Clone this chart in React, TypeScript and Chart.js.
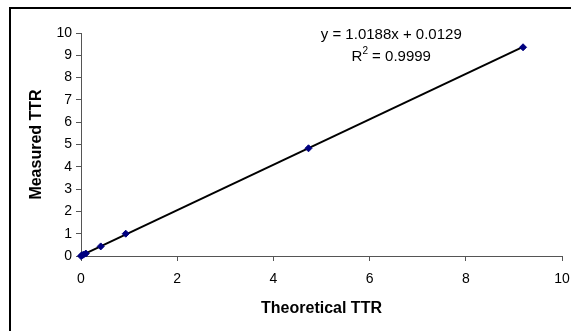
import React, { useEffect, useRef } from "react";
import { Chart, registerables } from "chart.js";

Chart.register(...registerables);

// Data
const theoreticalTTR = [0, 0.02, 0.05, 0.1, 0.41, 0.93, 4.73, 9.19];
const measuredTTR = [0, 0.03, 0.06, 0.11, 0.43, 1.0, 4.83, 9.36];

// Linear trend line (as printed on the chart)
const TREND_SLOPE = 1.0188;
const TREND_INTERCEPT = 0.0129;
const EQUATION_TEXT = "y = 1.0188x + 0.0129";
const R2_VALUE_TEXT = " = 0.9999";

const X_TITLE = "Theoretical TTR";
const Y_TITLE = "Measured TTR";

const FONT = "'Liberation Sans', Arial, Helvetica, sans-serif";

export default function App() {
  const ref = useRef<HTMLCanvasElement | null>(null);

  useEffect(() => {
    if (!ref.current) return;
    const xMin = Math.min(...theoreticalTTR);
    const xMax = Math.max(...theoreticalTTR);
    const trend = [
      { x: xMin, y: TREND_SLOPE * xMin + TREND_INTERCEPT },
      { x: xMax, y: TREND_SLOPE * xMax + TREND_INTERCEPT },
    ];
    const points = theoreticalTTR.map((x, i) => ({ x, y: measuredTTR[i] }));

    const framePlugin = {
      id: "frame",
      beforeDraw(chart: any) {
        const ctx = chart.ctx;
        ctx.save();
        ctx.fillStyle = "#ffffff";
        ctx.fillRect(0, 0, chart.width, chart.height);
        ctx.fillStyle = "#000000";
        ctx.fillRect(9, 7, chart.width - 9, 2);
        ctx.fillRect(9, 7, 2, chart.height - 7);
        ctx.restore();
      },
      afterDraw(chart: any) {
        const ctx = chart.ctx;
        const xs = chart.scales.x;
        const ys = chart.scales.y;
        const cx = xs.getPixelForValue(6.45);
        ctx.save();
        ctx.fillStyle = "#000000";
        ctx.textBaseline = "middle";
        ctx.font = `15px ${FONT}`;
        ctx.textAlign = "center";
        const y1 = ys.getPixelForValue(9.92);
        ctx.fillText(EQUATION_TEXT, cx, y1);
        // R² line
        const y2 = ys.getPixelForValue(8.94);
        ctx.textAlign = "left";
        const wR = ctx.measureText("R").width;
        const wRest = ctx.measureText(R2_VALUE_TEXT).width;
        ctx.font = `10px ${FONT}`;
        const w2 = ctx.measureText("2").width;
        const total = wR + w2 + wRest;
        const x0 = cx - total / 2;
        ctx.font = `15px ${FONT}`;
        ctx.fillText("R", x0, y2);
        ctx.font = `10px ${FONT}`;
        ctx.fillText("2", x0 + wR, y2 - 5);
        ctx.font = `15px ${FONT}`;
        ctx.fillText(R2_VALUE_TEXT, x0 + wR + w2, y2);
        ctx.restore();
      },
    };

    const chart = new Chart(ref.current, {
      type: "scatter",
      data: {
        datasets: [
          {
            type: "line",
            data: trend,
            borderColor: "#000000",
            borderWidth: 2,
            pointRadius: 0,
            fill: false,
            clip: false,
            order: 2,
          } as any,
          {
            data: points,
            backgroundColor: "#000080",
            borderColor: "#000080",
            pointStyle: "rectRot",
            pointRadius: 3.5,
            clip: false,
            order: 1,
          } as any,
        ],
      },
      options: {
        animation: false,
        responsive: false,
        layout: { padding: { left: 0, right: 9, top: 33, bottom: 0 } },
        plugins: {
          legend: { display: false },
          tooltip: { enabled: false },
        },
        scales: {
          x: {
            type: "linear",
            min: 0,
            max: 10,
            afterFit: (s: any) => {
              s.height = 75;
              s.paddingLeft = 0;
              s.paddingRight = 0;
            },
            ticks: {
              stepSize: 2,
              color: "#000000",
              padding: 10,
              font: { family: FONT, size: 14 },
            },
            grid: {
              drawOnChartArea: false,
              drawTicks: true,
              tickLength: 5,
              color: "#555555",
            },
            border: { display: true, color: "#555555", width: 1 },
            title: {
              display: true,
              text: X_TITLE,
              color: "#000000",
              font: { family: FONT, size: 16, weight: "bold" },
              padding: { top: 0, bottom: 13 },
            },
          },
          y: {
            type: "linear",
            min: 0,
            max: 10,
            afterFit: (s: any) => {
              s.width = 81;
              s.paddingTop = 0;
              s.paddingBottom = 0;
            },
            ticks: {
              stepSize: 1,
              color: "#000000",
              padding: 4,
              font: { family: FONT, size: 14 },
            },
            grid: {
              drawOnChartArea: false,
              drawTicks: true,
              tickLength: 5,
              color: "#555555",
            },
            border: { display: true, color: "#555555", width: 1 },
            title: {
              display: true,
              text: Y_TITLE,
              color: "#000000",
              font: { family: FONT, size: 16, weight: "bold" },
              padding: { top: 27, bottom: 0 },
            },
          },
        },
      },
      plugins: [framePlugin],
    });
    return () => chart.destroy();
  }, []);

  return (
    <div style={{ position: "fixed", left: 0, top: 0, width: 571, height: 331, background: "#fff" }}>
      <canvas ref={ref} width={571} height={331} style={{ display: "block" }} />
    </div>
  );
}
